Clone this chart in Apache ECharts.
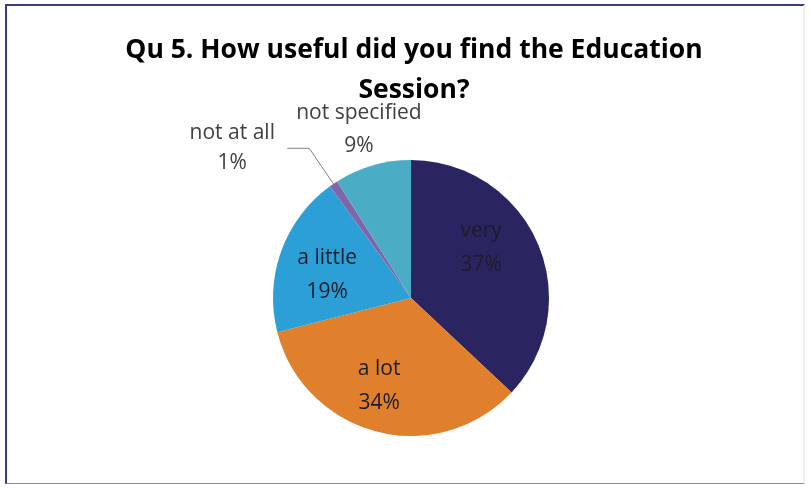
<!DOCTYPE html>
<html>
<head>
<meta charset="utf-8">
<script src="https://cdn.jsdelivr.net/npm/echarts@6/dist/echarts.min.js"></script>
<style>
  html, body { margin: 0; padding: 0; background: #fff; }
  #frame {
    position: absolute; left: 5px; top: 4px; width: 800px; height: 480px;
    border: 2px solid #3b3b86; border-right-color: #eeeeee; border-bottom: 1px solid #8a8ab0;
    box-sizing: border-box;
  }
  #main { position: absolute; left: 0; top: 0; width: 810px; height: 488px; }
</style>
</head>
<body>
<div id="frame"></div>
<div id="main"></div>
<script>
  // 数据
  const categories = ["very", "a lot", "a little", "not at all", "not specified"];
  const values = [37, 34, 19, 1, 9];
  const colors = ["#2a2560", "#e07f2c", "#2ca0d6", "#8264a8", "#4bacc6"];

  const font = "'Open Sans', 'Noto Sans', sans-serif";

  // 内部标签微调
  const nudge = [[4, -21], [-14, 18], [-16, 1], [0, 0], [-32, -99]];

  const chart = echarts.init(document.getElementById("main"));
  chart.setOption({
    animation: false,
    title: {
      text: "Qu 5. How useful did you find the Education\nSession?",
      left: 409,
      textAlign: "center",
      top: 25,
      textStyle: {
        fontFamily: font,
        fontSize: 26.5,
        fontWeight: "bold",
        color: "#000",
        lineHeight: 40
      }
    },
    series: [
      {
        type: "pie",
        center: [411, 298],
        radius: 138,
        startAngle: 90,
        clockwise: true,
        itemStyle: { borderWidth: 0 },
        label: {
          position: "inside",
          formatter: "{b}\n{d}%",
          fontFamily: font,
          fontSize: 21,
          lineHeight: 34,
          color: "#1c1c2c"
        },
        labelLayout: function(p) {
          if (p.dataIndex === 3) return {};
          return { dx: nudge[p.dataIndex][0], dy: nudge[p.dataIndex][1] };
        },
        data: categories.map(function(name, i) {
          const item = { name: name, value: values[i], itemStyle: { color: colors[i] } };
          if (i === 3) {
            item.label = {
              position: "outside",
              color: "#404040",
              formatter: "{c|{b}\n{d}%}",
              rich: { c: { width: 100, align: "center", fontFamily: font, fontSize: 21, lineHeight: 30, color: "#404040" } }
            };
            item.labelLine = { show: true, length: 43, length2: 22, lineStyle: { color: "#7f7f7f", width: 1 } };
          }
          if (i === 4) {
            item.label = {
              position: "inside",
              color: "#404040",
              formatter: "{c|{b}\n{d}%}",
              rich: { c: { width: 150, align: "center", fontFamily: font, fontSize: 21, lineHeight: 33, color: "#404040" } }
            };
          }
          return item;
        })
      }
    ]
  });
</script>
</body>
</html>
